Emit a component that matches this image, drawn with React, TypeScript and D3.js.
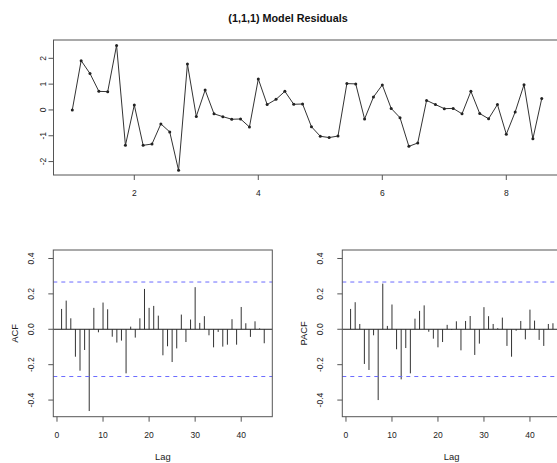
import { scaleLinear, line } from 'd3'

const W = 557
const H = 463
const FONT = '"Liberation Sans", Arial, Helvetica, sans-serif'

// residual series, ts(start = 1, frequency = 7)
const START = 1
const FREQ = 7
const RESID = [
  0.0, 1.91, 1.41, 0.72, 0.71, 2.5, -1.37, 0.19, -1.37, -1.32,
  -0.54, -0.85, -2.34, 1.78, -0.25, 0.77, -0.15, -0.26, -0.36, -0.35,
  -0.66, 1.2, 0.21, 0.41, 0.72, 0.22, 0.23, -0.65, -1.02, -1.07,
  -1.01, 1.02, 1.01, -0.35, 0.5, 0.97, 0.06, -0.3, -1.41, -1.28,
  0.37, 0.21, 0.05, 0.06, -0.15, 0.72, -0.14, -0.34, 0.21, -0.94,
  -0.08, 0.98, -1.12, 0.44,
]
const TOP_X_TICKS = [2, 4, 6, 8]
const TOP_Y_TICKS = [-2, -1, 0, 1, 2]

// lags 1..45
const ACF = [
  0.115, 0.162, 0.062, -0.155, -0.234, -0.117, -0.462, 0.121, -0.017, 0.151,
  0.113, -0.042, -0.075, -0.064, -0.249, 0.015, -0.047, 0.062, 0.228, 0.121,
  0.132, 0.077, -0.147, -0.096, -0.185, -0.108, 0.083, -0.072, 0.055, 0.238,
  0.036, 0.074, -0.034, -0.102, -0.015, -0.098, -0.087, 0.057, -0.087, 0.126,
  0.034, -0.043, 0.045, 0.005, -0.079,
]
const PACF = [
  0.115, 0.153, 0.03, -0.196, -0.23, -0.034, -0.4, 0.258, 0.019, 0.14,
  -0.113, -0.283, -0.106, -0.249, 0.06, 0.104, 0.135, -0.014, -0.053, -0.102,
  -0.072, 0.025, -0.004, 0.045, -0.119, 0.047, 0.075, -0.145, -0.081, 0.125,
  0.074, 0.03, 0.006, 0.066, -0.094, -0.155, -0.008, 0.047, -0.057, 0.111,
  0.049, -0.06, -0.094, 0.03, 0.034,
]
const CLIM = 0.267
const CF_Y_DOMAIN = [-0.494, 0.448]
const CF_X_DOMAIN = [-0.8, 46.75]
const CF_Y_TICKS = [-0.4, -0.2, 0.0, 0.2, 0.4]
const CF_X_TICKS = [0, 10, 20, 30, 40]

const FRAME = '#555'

function CorrPanel({ values, label, left, right, top, bottom }: {
  values: number[]; label: string; left: number; right: number; top: number; bottom: number
}) {
  const x = scaleLinear().domain(CF_X_DOMAIN).range([left, right])
  const y = scaleLinear().domain(CF_Y_DOMAIN).range([bottom, top])
  return (
    <g>
      {values.map((v, i) => (
        <line key={i} x1={x(i + 1)} x2={x(i + 1)} y1={y(0)} y2={y(v)} stroke="#333" strokeWidth={1} />
      ))}
      <line x1={left} x2={right} y1={y(0)} y2={y(0)} stroke="#222" strokeWidth={1} />
      {[CLIM, -CLIM].map((c) => (
        <line key={c} x1={left} x2={right} y1={y(c)} y2={y(c)} stroke="#6b6bff" strokeWidth={1} strokeDasharray="4,4" />
      ))}
      <rect x={left} y={top} width={right - left} height={bottom - top} fill="none" stroke={FRAME} strokeWidth={1} />
      {CF_Y_TICKS.map((t) => (
        <g key={t}>
          <line x1={left - 5} x2={left} y1={y(t)} y2={y(t)} stroke={FRAME} />
          <text transform={`translate(${left - 19.6},${y(t)}) rotate(-90)`} textAnchor="middle" fontSize={8.5} fill="#222">
            {t.toFixed(1)}
          </text>
        </g>
      ))}
      {CF_X_TICKS.map((t) => (
        <g key={t}>
          <line x1={x(t)} x2={x(t)} y1={bottom} y2={bottom + 5} stroke={FRAME} />
          <text x={x(t)} y={bottom + 21.3} textAnchor="middle" fontSize={8.5} fill="#222">{t}</text>
        </g>
      ))}
      <text x={(left + right) / 2} y={460} textAnchor="middle" fontSize={9.4} fill="#222">Lag</text>
      <text transform={`translate(${left - 35.2},${(top + bottom) / 2}) rotate(-90)`} textAnchor="middle" fontSize={9.4} fill="#222">
        {label}
      </text>
    </g>
  )
}

export default function App() {
  const L = 53.5, R = 560.5, T = 40, B = 175
  const n = RESID.length
  const xs = scaleLinear().domain([0.697, 8.874]).range([L, R])
  const ys = scaleLinear().domain([-2.52, 2.71]).range([B, T])
  const pts = RESID.map((v, i) => [START + i / FREQ, v] as [number, number])
  const path = line<[number, number]>().x((d) => xs(d[0])).y((d) => ys(d[1]))(pts) || ''

  return (
    <svg width={W} height={H} style={{ position: 'absolute', left: 0, top: 0, background: '#fff' }} fontFamily={FONT}>
      <rect width={W} height={H} fill="#fff" />
      <text x={288} y={22} textAnchor="middle" fontSize={10.8} fontWeight="bold" fill="#111">
        (1,1,1) Model Residuals
      </text>

      <path d={path} fill="none" stroke="#333" strokeWidth={1} />
      {pts.map((d, i) => (
        <circle key={i} cx={xs(d[0])} cy={ys(d[1])} r={1.5} fill="#222" />
      ))}
      <rect x={L} y={T} width={R - L} height={B - T} fill="none" stroke={FRAME} />
      {TOP_X_TICKS.map((t) => (
        <g key={t}>
          <line x1={xs(t)} x2={xs(t)} y1={B} y2={B + 5} stroke={FRAME} />
          <text x={xs(t)} y={B + 21.3} textAnchor="middle" fontSize={8.5} fill="#222">{t}</text>
        </g>
      ))}
      {TOP_Y_TICKS.map((t) => (
        <g key={t}>
          <line x1={L - 5} x2={L} y1={ys(t)} y2={ys(t)} stroke={FRAME} />
          <text transform={`translate(${L - 7.8},${ys(t)}) rotate(-90)`} textAnchor="middle" fontSize={8.5} fill="#222">
            {t}
          </text>
        </g>
      ))}
      {n > 0 && null}

      <CorrPanel values={ACF} label="ACF" left={53.3} right={272.3} top={250} bottom={416.7} />
      <CorrPanel values={PACF} label="PACF" left={342.3} right={561} top={250} bottom={416.7} />
    </svg>
  )
}
